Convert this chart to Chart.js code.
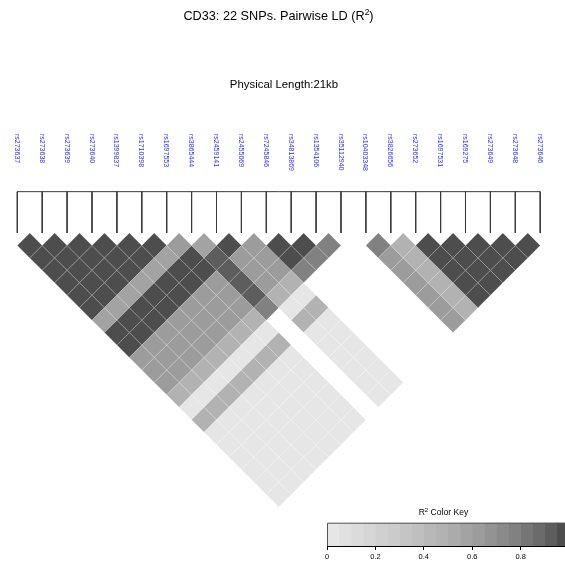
<!DOCTYPE html>
<html>
<head>
<meta charset="utf-8">
<script src="https://cdn.jsdelivr.net/npm/chart.js@4.4.1/dist/chart.umd.min.js"></script>
<style>
  html, body { margin: 0; padding: 0; background: #fff; overflow: hidden; width: 565px; height: 568px; }
  #wrap { position: relative; width: 565px; height: 568px; }
  #ld { position: absolute; left: 0; top: 0; }
  #key { position: absolute; left: 317px; top: 505px; }
</style>
</head>
<body>
<div id="wrap">
  <canvas id="ld" width="565" height="568"></canvas>
  <canvas id="key" width="265" height="63"></canvas>
</div>
<script>
// SNP names in map order
const snpNames = [
  "rs273637", "rs273638", "rs273639", "rs273640", "rs1399837", "rs1710398",
  "rs1697553", "rs3865444", "rs2459141", "rs2455069", "rs7245846", "rs34813869",
  "rs1354106", "rs35112940", "rs10403348", "rs3826656", "rs273652", "rs1697531",
  "rs169275", "rs273649", "rs273648", "rs273646"
];

// Pairwise R^2 of each SNP with every later SNP (null = not available)
const r2_rs273637   = [0.98, 0.97, 0.99, 0.98, 0.97, 0.98, 0.57, 0.97, 0.96, 0.63, 0.62, 0.63, 0.47, 0.02, 0.46, 0.02, 0.02, 0.02, 0.02, 0.02, 0.02];
const r2_rs273638   = [0.99, 0.98, 0.97, 0.98, 0.97, 0.57, 0.97, 0.97, 0.62, 0.63, 0.62, 0.47, 0.02, 0.47, 0.02, 0.02, 0.02, 0.02, 0.02, 0.02];
const r2_rs273639   = [0.98, 0.99, 0.98, 0.97, 0.58, 0.96, 0.97, 0.63, 0.62, 0.63, 0.46, 0.02, 0.47, 0.02, 0.02, 0.02, 0.02, 0.02, 0.02];
const r2_rs273640   = [0.98, 0.97, 0.98, 0.57, 0.97, 0.97, 0.62, 0.63, 0.62, 0.47, 0.02, 0.46, 0.02, 0.02, 0.02, 0.02, 0.02, 0.02];
const r2_rs1399837  = [0.99, 0.97, 0.57, 0.97, 0.96, 0.63, 0.62, 0.63, 0.47, 0.02, 0.47, 0.02, 0.02, 0.02, 0.02, 0.02, 0.02];
const r2_rs1710398  = [0.98, 0.58, 0.97, 0.97, 0.62, 0.63, 0.62, 0.46, 0.02, 0.47, 0.02, 0.02, 0.02, 0.02, 0.02, 0.02];
const r2_rs1697553  = [0.62, 0.97, 0.96, 0.63, 0.62, 0.63, 0.47, 0.02, 0.46, 0.02, 0.02, 0.02, 0.02, 0.02, 0.02];
const r2_rs3865444  = [0.57, 0.92, 0.92, 0.93, 0.92, 0.77, null, null, null, null, null, null, null, null];
const r2_rs2459141  = [0.97, 0.62, 0.63, 0.62, 0.47, 0.02, 0.47, 0.02, 0.02, 0.02, 0.02, 0.02, 0.02];
const r2_rs2455069  = [0.62, 0.63, 0.62, 0.46, 0.02, 0.47, 0.02, 0.02, 0.02, 0.02, 0.02, 0.02];
const r2_rs7245846  = [0.97, 0.96, 0.77, null, null, null, null, null, null, null, null];
const r2_rs34813869 = [0.97, 0.77, null, null, null, null, null, null, null, null];
const r2_rs1354106  = [0.77, null, null, null, null, null, null, null, null];
const r2_rs35112940 = [null, null, null, null, null, null, null, null];
const r2_rs10403348 = [0.77, 0.61, 0.62, 0.61, 0.62, 0.61, 0.62];
const r2_rs3826656  = [0.47, 0.46, 0.47, 0.47, 0.46, 0.47];
const r2_rs273652   = [0.98, 0.97, 0.98, 0.99, 0.97];
const r2_rs1697531  = [0.98, 0.97, 0.98, 0.98];
const r2_rs169275   = [0.99, 0.97, 0.98];
const r2_rs273649   = [0.98, 0.97];
const r2_rs273648   = [0.98];

const r2Rows = [
  r2_rs273637, r2_rs273638, r2_rs273639, r2_rs273640, r2_rs1399837, r2_rs1710398,
  r2_rs1697553, r2_rs3865444, r2_rs2459141, r2_rs2455069, r2_rs7245846, r2_rs34813869,
  r2_rs1354106, r2_rs35112940, r2_rs10403348, r2_rs3826656, r2_rs273652, r2_rs1697531,
  r2_rs169275, r2_rs273649, r2_rs273648
];

// Colour key tick values
const keyTicks = [0, 0.2, 0.4, 0.6, 0.8];

// 20-step grey ramp (light for low R^2, dark for high R^2)
const N_BINS = 20;
function greyLevel(k) {
  const g = 2.2, s = Math.pow(0.3, g), e = Math.pow(0.9, g);
  return Math.pow(s + k * (e - s) / (N_BINS - 1), 1 / g);
}
function ldColor(v) {
  const bin = Math.min(N_BINS - 1, Math.floor(v * N_BINS));
  const lvl = Math.round(greyLevel(N_BINS - 1 - bin) * 255);
  return `rgb(${lvl},${lvl},${lvl})`;
}

// Cells: x = midpoint of the two SNP indices, y = index distance
const cells = [];
r2Rows.forEach((row, i) => {
  row.forEach((v, k) => {
    const j = i + 1 + k;
    if (v !== null) cells.push({ x: (i + j) / 2, y: j - i, v: v });
  });
});

// Map of SNP positions: a bar with a tick down to each SNP
const MAP_TOP = -3.32;
const mapLine = [{ x: 0, y: MAP_TOP }, { x: snpNames.length - 1, y: MAP_TOP }, { x: 0, y: null }];
snpNames.forEach((_, i) => {
  mapLine.push({ x: i, y: MAP_TOP }, { x: i, y: 0 }, { x: i, y: null });
});

const FONT = '"Liberation Sans", Arial, sans-serif';

function halfStep(chart) {
  const xs = chart.scales && chart.scales.x;
  if (!xs) return 12;
  return Math.abs(xs.getPixelForValue(1) - xs.getPixelForValue(0)) / 2;
}

function drawSup(ctx, parts, cx, base, size, supSize) {
  // parts: [text, superscript, text]
  ctx.font = `${size}px ${FONT}`;
  const w1 = ctx.measureText(parts[0]).width;
  const w3 = ctx.measureText(parts[2]).width;
  ctx.font = `${supSize}px ${FONT}`;
  const w2 = ctx.measureText(parts[1]).width;
  let x = cx - (w1 + w2 + w3) / 2;
  ctx.textAlign = 'left';
  ctx.textBaseline = 'alphabetic';
  ctx.font = `${size}px ${FONT}`;
  ctx.fillText(parts[0], x, base);
  x += w1;
  ctx.font = `${supSize}px ${FONT}`;
  ctx.fillText(parts[1], x, base - size * 0.42);
  x += w2;
  ctx.font = `${size}px ${FONT}`;
  ctx.fillText(parts[2], x, base);
}

const textPlugin = {
  id: 'ldText',
  afterDraw(chart) {
    const ctx = chart.ctx;
    const xs = chart.scales.x;
    ctx.save();
    ctx.fillStyle = '#000';
    drawSup(ctx, ['CD33: 22 SNPs. Pairwise LD (R', '2', ')'], 278.5, 20.3, 12.7, 8.5);
    ctx.font = `11.4px ${FONT}`;
    ctx.textAlign = 'center';
    ctx.textBaseline = 'alphabetic';
    ctx.fillText('Physical Length:21kb', 284, 88.3);

    ctx.fillStyle = '#2d2dff';
    ctx.font = `7px ${FONT}`;
    snpNames.forEach((name, i) => {
      const px = xs.getPixelForValue(i);
      ctx.save();
      ctx.translate(px - 0.5, 134);
      ctx.rotate(Math.PI / 2);
      ctx.textAlign = 'left';
      ctx.textBaseline = 'middle';
      ctx.fillText(name, 0, 0);
      ctx.restore();
    });

    ctx.fillStyle = '#000';
    drawSup(ctx, ['R', '2', ' Color Key'], 443.5, 515.3, 8.6, 6);
    ctx.restore();
  }
};

new Chart(document.getElementById('ld'), {
  type: 'scatter',
  data: {
    datasets: [
      {
        label: 'R2',
        data: cells,
        pointStyle: 'rectRot',
        pointRadius: ctx => halfStep(ctx.chart),
        pointHoverRadius: ctx => halfStep(ctx.chart),
        backgroundColor: ctx => (ctx.raw ? ldColor(ctx.raw.v) : '#fff'),
        borderColor: 'rgba(255,255,255,0.16)',
        borderWidth: 1,
        clip: false
      },
      {
        label: 'map',
        data: mapLine,
        showLine: true,
        spanGaps: false,
        pointRadius: 0,
        borderColor: '#3a3a3a',
        borderWidth: 1,
        clip: false
      }
    ]
  },
  options: {
    responsive: false,
    animation: false,
    events: [],
    layout: { padding: 0 },
    plugins: { legend: { display: false }, tooltip: { enabled: false }, title: { display: false } },
    scales: {
      x: { type: 'linear', display: false, min: -0.6948, max: 21.996 },
      y: { type: 'linear', display: false, reverse: true, min: -18.715, max: 26.9076 }
    }
  },
  plugins: [textPlugin]
});

// Colour key
const keyBins = Array.from({ length: N_BINS }, (_, b) => b);
const keyBorder = {
  id: 'keyBorder',
  afterDatasetsDraw(chart) {
    const a = chart.chartArea, ctx = chart.ctx;
    ctx.save();
    ctx.strokeStyle = '#555';
    ctx.lineWidth = 1;
    ctx.beginPath();
    ctx.moveTo(a.left + 0.5, a.bottom);
    ctx.lineTo(a.left + 0.5, a.top + 0.5);
    ctx.lineTo(a.right, a.top + 0.5);
    ctx.stroke();
    ctx.restore();
  }
};

new Chart(document.getElementById('key'), {
  type: 'bar',
  data: {
    labels: ['key'],
    datasets: keyBins.map(b => ({
      data: [1 / N_BINS],
      backgroundColor: ldColor((b + 0.5) / N_BINS),
      borderWidth: 0,
      barPercentage: 1,
      categoryPercentage: 1
    }))
  },
  options: {
    indexAxis: 'y',
    responsive: false,
    animation: false,
    events: [],
    layout: { padding: { left: 10, right: 13, top: 17.7, bottom: 5 } },
    plugins: { legend: { display: false }, tooltip: { enabled: false } },
    scales: {
      y: { type: 'category', stacked: true, display: false },
      x: {
        type: 'linear', stacked: true, min: 0, max: 1,
        afterBuildTicks: axis => { axis.ticks = keyTicks.map(v => ({ value: v })); },
        ticks: { color: '#000', font: { family: FONT, size: 7.5 }, padding: 2, maxRotation: 0 },
        grid: { display: true, drawOnChartArea: false, drawTicks: true, tickLength: 4, color: '#000', lineWidth: 1 },
        border: { display: true, color: '#000', width: 1 }
      }
    }
  },
  plugins: [keyBorder]
});
</script>
</body>
</html>
